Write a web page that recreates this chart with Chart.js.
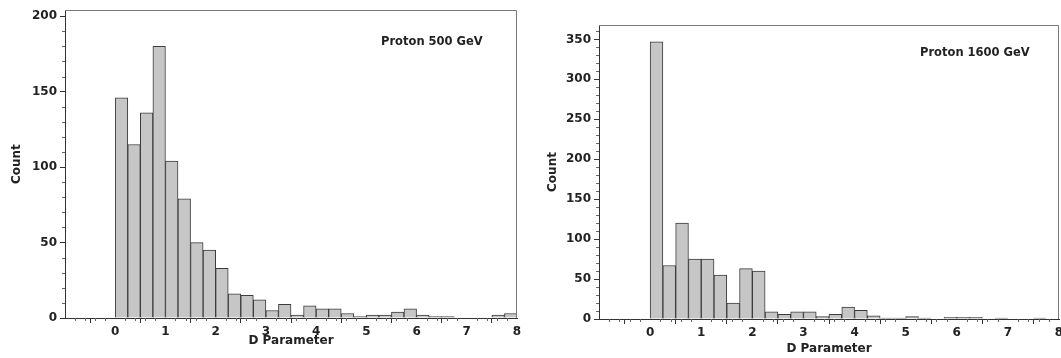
<!DOCTYPE html>
<html>
<head>
<meta charset="utf-8">
<script src="https://cdn.jsdelivr.net/npm/chart.js@4/dist/chart.umd.min.js"></script>
<style>
  html, body { margin: 0; padding: 0; background: #fff; }
  #wrap { position: relative; width: 1061px; height: 358px; }
  .box { position: absolute; top: 0; height: 358px; }
</style>
</head>
<body>
<div id="wrap">
  <div class="box" style="left:0;width:530px"><canvas id="c500"></canvas></div>
  <div class="box" style="left:530px;width:531px"><canvas id="c1600"></canvas></div>
</div>
<script>
// histogram bins, width 0.25, starting at 0
var binStarts = [0, 0.25, 0.5, 0.75, 1, 1.25, 1.5, 1.75, 2, 2.25, 2.5, 2.75,
                 3, 3.25, 3.5, 3.75, 4, 4.25, 4.5, 4.75, 5, 5.25, 5.5, 5.75,
                 6, 6.25, 6.5, 6.75, 7, 7.25, 7.5, 7.75];
var binWidth = 0.25;
var counts500 = [146, 115, 136, 180, 104, 79, 50, 45, 33, 16, 15, 12,
                 5, 9, 2, 8, 6, 6, 3, 1, 2, 2, 4, 6,
                 2, 1, 1, 0, 0, 0, 2, 3];
var counts1600 = [347, 67, 120, 75, 75, 55, 20, 63, 60, 9, 6, 9,
                  9, 3, 6, 15, 11, 4, 1, 1, 3, 1, 0, 2,
                  2, 2, 0, 1, 0, 0, 1, 0];
var xTicks = [0, 1, 2, 3, 4, 5, 6, 7, 8];
var titles = ["Proton 500 GeV", "Proton 1600 GeV"];

var FONT = "'DejaVu Sans', Verdana, sans-serif";
var ink = "#222";

var extras = {
  id: "extras",
  afterDraw: function (chart, args, o) {
    var ctx = chart.ctx, a = chart.chartArea, x = chart.scales.x, y = chart.scales.y;
    ctx.save();
    // frame top + right
    ctx.strokeStyle = "#7a7a7a";
    ctx.lineWidth = 1;
    ctx.beginPath();
    ctx.moveTo(a.left, Math.round(a.top) + 0.5);
    ctx.lineTo(Math.round(a.right) - 0.5, Math.round(a.top) + 0.5);
    ctx.lineTo(Math.round(a.right) - 0.5, a.bottom);
    ctx.stroke();
    // minor ticks
    ctx.strokeStyle = "#666";
    ctx.beginPath();
    for (var v = x.min; v <= x.max + 1e-6; v += 0.2) {
      if (Math.abs(v - Math.round(v)) < 1e-6) continue;
      var px = Math.round(x.getPixelForValue(v)) + 0.5;
      ctx.moveTo(px, a.bottom);
      ctx.lineTo(px, a.bottom + 3);
    }
    for (var w = 10; w <= y.max; w += 10) {
      if (w % 50 === 0) continue;
      var py = Math.round(y.getPixelForValue(w)) + 0.5;
      ctx.moveTo(a.left, py);
      ctx.lineTo(a.left - 3, py);
    }
    ctx.stroke();
    // label
    ctx.fillStyle = ink;
    ctx.font = "bold 11.5px " + FONT;
    ctx.textBaseline = "middle";
    ctx.textAlign = "left";
    ctx.fillText(o.text, a.right - o.dx, o.ty);
    ctx.restore();
  }
};

function makeChart(id, counts, opt) {
  var pts = binStarts.map(function (s, i) { return { x: s + binWidth / 2, y: counts[i] }; });
  var f = { family: FONT, size: 12, weight: "bold" };
  return new Chart(document.getElementById(id), {
    type: "bar",
    data: {
      datasets: [{
        data: pts,
        backgroundColor: "#c6c6c6",
        borderColor: "#3c3c3c",
        borderWidth: 1,
        borderSkipped: "start",
        barPercentage: 1,
        categoryPercentage: 1
      }]
    },
    options: {
      responsive: true,
      maintainAspectRatio: false,
      animation: false,
      layout: { padding: { top: opt.padTop, right: opt.padRight, left: 0, bottom: 0 } },
      plugins: {
        legend: { display: false },
        tooltip: { enabled: false },
        extras: { text: opt.text, dx: opt.textDx, ty: opt.textY }
      },
      scales: {
        x: {
          type: "linear",
          min: -1, max: 8,
          offset: false,
          afterFit: function (s) { s.height = opt.xH; s.paddingRight = 0; s.paddingLeft = 0; },
          afterBuildTicks: function (s) { s.ticks = xTicks.map(function (v) { return { value: v }; }); },
          ticks: { color: ink, font: f, padding: 2, maxRotation: 0, autoSkip: false },
          grid: { display: true, drawOnChartArea: false, drawTicks: true, tickLength: 5, tickColor: "#333" },
          border: { display: true, color: "#333", width: 1 },
          title: { display: true, text: "D Parameter", color: ink, font: f, padding: { top: 0, bottom: opt.xTitlePad } }
        },
        y: {
          min: 0, max: opt.yMax,
          afterFit: function (s) { s.width = opt.yW; },
          ticks: { stepSize: 50, includeBounds: false, color: ink, font: f, padding: 3 },
          grid: { display: true, drawOnChartArea: false, drawTicks: true, tickLength: 5, tickColor: "#333" },
          border: { display: true, color: "#333", width: 1 },
          title: { display: true, text: "Count", color: ink, font: f, padding: { top: opt.yTitlePad, bottom: 0 } }
        }
      }
    },
    plugins: [extras]
  });
}

makeChart("c500", counts500, {
  yMax: 204, padTop: 9, padRight: 13, xH: 40, yW: 65,
  xTitlePad: 10, yTitlePad: 10,
  text: titles[0], textDx: 136, textY: 42
});
makeChart("c1600", counts1600, {
  yMax: 368, padTop: 25, padRight: 2, xH: 39, yW: 69,
  xTitlePad: 2, yTitlePad: 16,
  text: titles[1], textDx: 139, textY: 53
});
</script>
</body>
</html>
